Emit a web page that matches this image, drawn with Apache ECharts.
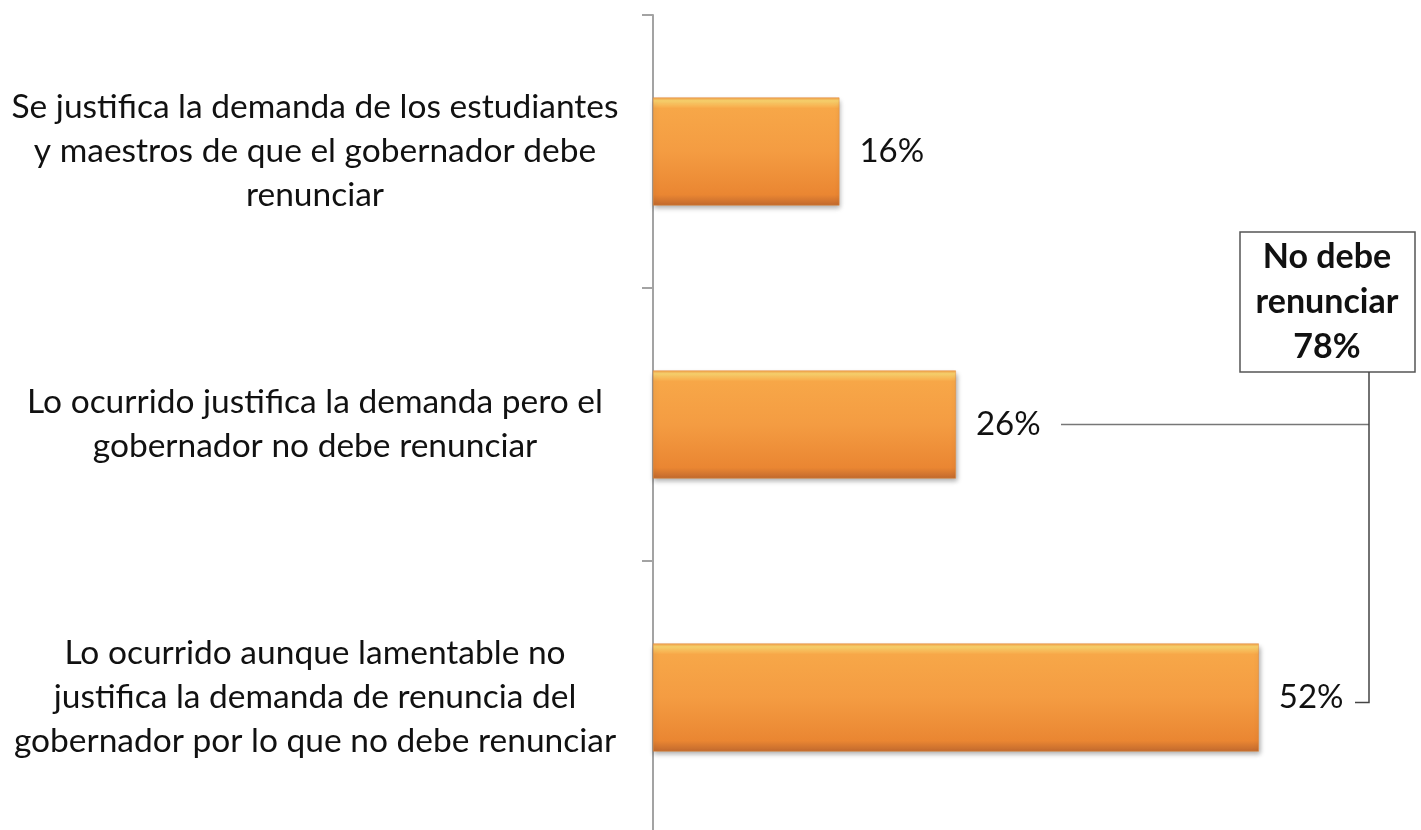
<!DOCTYPE html>
<html>
<head>
<meta charset="utf-8">
<script src="https://cdn.jsdelivr.net/npm/echarts@6/dist/echarts.min.js"></script>
<style>
    html, body { margin: 0; padding: 0; background: #fff; }
    #chart { width: 1421px; height: 830px; }
</style>
</head>
<body>
<div id="chart"></div>
<script>
// categorias (de arriba hacia abajo)
const categories = [
    'Se justifica la demanda de los estudiantes\ny maestros de que el gobernador debe\nrenunciar',
    'Lo ocurrido justifica la demanda pero el\ngobernador no debe renunciar',
    'Lo ocurrido aunque lamentable no\njustifica la demanda de renuncia del\ngobernador por lo que no debe renunciar'
]
const values = [16, 26, 52]
// recuadro de total
const totalLines = ['No debe', 'renunciar', '78%']

const font = 'Lato, "Open Sans", sans-serif'
const chart = echarts.init(document.getElementById('chart'))

const barColor = new echarts.graphic.LinearGradient(0, 0, 0, 1, [
    { offset: 0, color: '#f3a04a' },
    { offset: 0.03, color: '#fbd46e' },
    { offset: 0.1, color: '#f7a748' },
    { offset: 0.5, color: '#f49c42' },
    { offset: 0.9, color: '#ea8632' },
    { offset: 1, color: '#c1692e' }
])

chart.setOption({
    animation: false,
    // el eje se sale por abajo del lienzo, como en el original
    grid: {
        left: 653,
        right: 69,
        top: 15,
        height: 819,
        containLabel: false,
        outerBoundsMode: 'none'
    },
    xAxis: {
        type: 'value',
        min: 0,
        max: 60,
        show: false
    },
    yAxis: {
        type: 'category',
        inverse: true,
        data: categories,
        axisLine: { lineStyle: { color: '#a3a3a3', width: 2 } },
        axisTick: { show: true, alignWithLabel: false, length: 11, lineStyle: { color: '#a3a3a3', width: 2 } },
        axisLabel: {
            margin: 338,
            align: 'center',
            fontFamily: font,
            fontSize: 33.5,
            lineHeight: 44,
            color: '#111'
        }
    },
    series: [{
        type: 'bar',
        data: values,
        barWidth: 108,
        itemStyle: {
            color: barColor,
            borderColor: '#e48a3a',
            borderWidth: 0.5,
            shadowColor: 'rgba(0,0,0,0.35)',
            shadowBlur: 5,
            shadowOffsetX: 1,
            shadowOffsetY: 3
        },
        label: {
            show: true,
            position: 'right',
            distance: 20,
            formatter: '{c}%',
            fontFamily: font,
            fontSize: 33,
            color: '#111'
        }
    }]
})

// anotacion: llave que une las dos ultimas barras con el recuadro
const yMid = chart.convertToPixel({ yAxisIndex: 0 }, categories[1])
const yLow = chart.convertToPixel({ yAxisIndex: 0 }, categories[2]) + 5
const bracketX = 1369

chart.setOption({
    graphic: [
        {
            type: 'rect',
            shape: { x: 1240, y: 232, width: 175, height: 140 },
            style: { fill: '#fff', stroke: '#555', lineWidth: 1.5 }
        },
        {
            type: 'text',
            x: 1327,
            y: 302,
            style: {
                text: totalLines.join('\n'),
                fontFamily: font,
                fontWeight: 'bold',
                fontSize: 34,
                lineHeight: 45,
                fill: '#111',
                align: 'center',
                verticalAlign: 'middle'
            }
        },
        {
            type: 'polyline',
            shape: { points: [[1061, yMid], [bracketX, yMid]] },
            style: { stroke: '#777', lineWidth: 1.5, fill: null }
        },
        {
            type: 'polyline',
            shape: { points: [[bracketX, 372], [bracketX, yLow], [1355, yLow]] },
            style: { stroke: '#444', lineWidth: 1.5, fill: null }
        }
    ]
})
</script>
</body>
</html>
